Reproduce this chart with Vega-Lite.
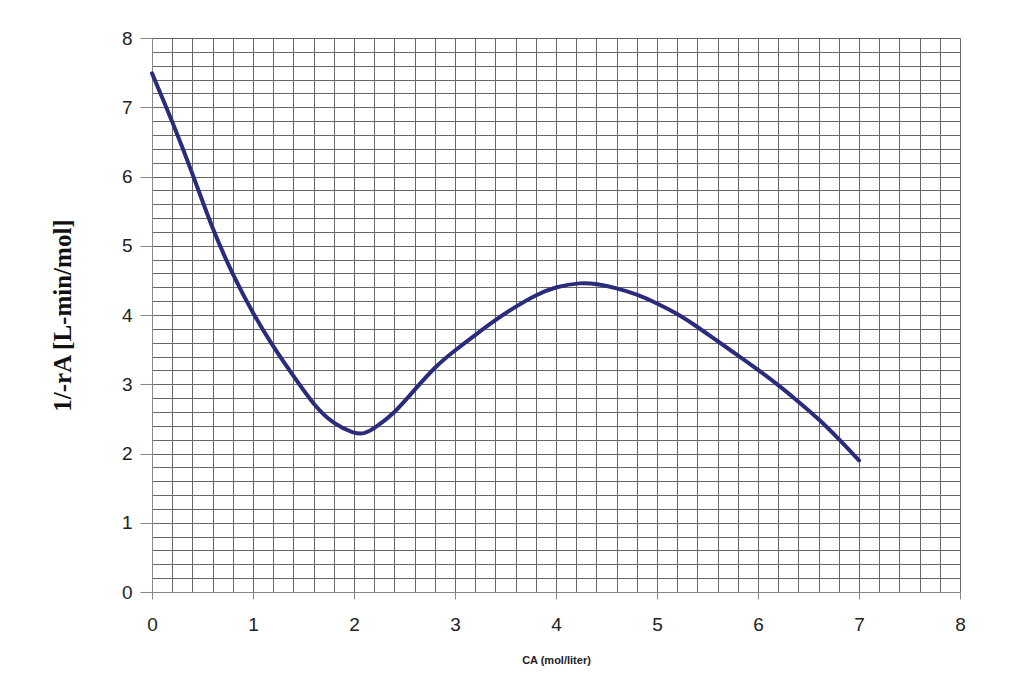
{
  "$schema": "https://vega.github.io/schema/vega-lite/v6.json",
  "width": 808,
  "height": 554,
  "autosize": {"type": "none"},
  "padding": {"left": 152, "top": 38, "right": 71, "bottom": 90},
  "background": "white",
  "config": {"view": {"stroke": null}},
  "data": {"values": [
    {"x": 0, "y": 7.49},
    {"x": 0.2, "y": 6.8},
    {"x": 0.4, "y": 6.05},
    {"x": 0.6, "y": 5.23},
    {"x": 0.8, "y": 4.58},
    {"x": 1.0, "y": 4.02},
    {"x": 1.2, "y": 3.54},
    {"x": 1.4, "y": 3.12},
    {"x": 1.6, "y": 2.7},
    {"x": 1.8, "y": 2.42},
    {"x": 2.0, "y": 2.29},
    {"x": 2.1, "y": 2.28},
    {"x": 2.2, "y": 2.36},
    {"x": 2.4, "y": 2.58},
    {"x": 2.6, "y": 2.92},
    {"x": 2.8, "y": 3.25},
    {"x": 3.0, "y": 3.49},
    {"x": 3.2, "y": 3.71},
    {"x": 3.4, "y": 3.93},
    {"x": 3.6, "y": 4.12},
    {"x": 3.8, "y": 4.29},
    {"x": 4.0, "y": 4.41},
    {"x": 4.25, "y": 4.47},
    {"x": 4.4, "y": 4.45},
    {"x": 4.6, "y": 4.39},
    {"x": 4.8, "y": 4.3},
    {"x": 5.0, "y": 4.17},
    {"x": 5.2, "y": 4.02},
    {"x": 5.4, "y": 3.83},
    {"x": 5.6, "y": 3.62},
    {"x": 5.8, "y": 3.42},
    {"x": 6.0, "y": 3.21},
    {"x": 6.2, "y": 2.99},
    {"x": 6.4, "y": 2.75},
    {"x": 6.6, "y": 2.5},
    {"x": 6.8, "y": 2.21},
    {"x": 7.0, "y": 1.9}
  ]},
  "mark": {"type": "line", "interpolate": "basis", "color": "#2b2b7c", "strokeWidth": 4, "strokeCap": "round"},
  "encoding": {
    "x": {
      "field": "x", "type": "quantitative",
      "scale": {"domain": [0, 8], "nice": false, "zero": false},
      "axis": {
        "values": [0,0.2,0.4,0.6,0.8,1,1.2,1.4,1.6,1.8,2,2.2,2.4,2.6,2.8,3,3.2,3.4,3.6,3.8,4,4.2,4.4,4.6,4.8,5,5.2,5.4,5.6,5.8,6,6.2,6.4,6.6,6.8,7,7.2,7.4,7.6,7.8,8],
        "labelExpr": "abs(datum.value - round(datum.value)) < 0.001 ? format(datum.value, 'd') : ''",
        "tickOpacity": {"condition": {"test": "abs(datum.value - round(datum.value)) > 0.001", "value": 0}, "value": 1},
        "grid": true, "gridColor": "#666", "gridWidth": 1,
        "domainColor": "#888", "tickColor": "#888", "tickSize": 7,
        "labelFlush": false,
        "labelFont": "Liberation Sans", "labelFontSize": 19, "labelColor": "#222", "labelPadding": 16,
        "title": "CA (mol/liter)", "titleFont": "Liberation Sans", "titleFontSize": 11, "titleFontWeight": "bold", "titleColor": "#222", "titlePadding": 20
      }
    },
    "y": {
      "field": "y", "type": "quantitative",
      "scale": {"domain": [0, 8], "nice": false, "zero": false},
      "axis": {
        "values": [0,0.2,0.4,0.6,0.8,1,1.2,1.4,1.6,1.8,2,2.2,2.4,2.6,2.8,3,3.2,3.4,3.6,3.8,4,4.2,4.4,4.6,4.8,5,5.2,5.4,5.6,5.8,6,6.2,6.4,6.6,6.8,7,7.2,7.4,7.6,7.8,8],
        "labelExpr": "abs(datum.value - round(datum.value)) < 0.001 ? format(datum.value, 'd') : ''",
        "tickOpacity": {"condition": {"test": "abs(datum.value - round(datum.value)) > 0.001", "value": 0}, "value": 1},
        "grid": true, "gridColor": "#666", "gridWidth": 1,
        "domainColor": "#888", "tickColor": "#888", "tickSize": 12,
        "labelFlush": false,
        "labelFont": "Liberation Sans", "labelFontSize": 19, "labelColor": "#222", "labelPadding": 8,
        "title": "1/-rA [L-min/mol]", "titleFont": "Liberation Serif", "titleFontSize": 25, "titleFontWeight": "bold", "titleColor": "#111", "titlePadding": 46
      }
    }
  }
}
